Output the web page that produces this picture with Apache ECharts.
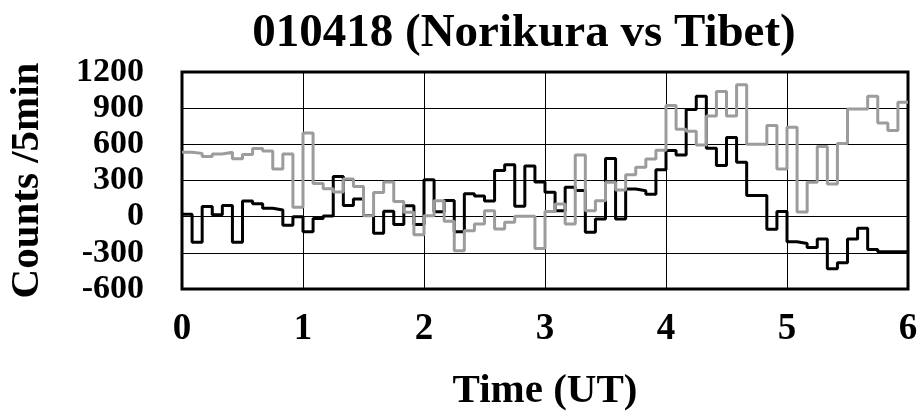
<!DOCTYPE html>
<html>
<head>
<meta charset="utf-8">
<script src="https://cdn.jsdelivr.net/npm/echarts@6/dist/echarts.min.js"></script>
<style>
html,body{margin:0;padding:0;background:#fff;}
#chart{width:918px;height:415px;}
</style>
</head>
<body>
<div id="chart"></div>
<script>
// 5-minute bins, 0–6 UT (12 bins per hour)
const binMinutes = 5;
const norikura = [
  20, -212, 84, 15, 92, -212, 130, 108, 70, 55, -72, 0,
  -125, -16, 5, 333, 92, 147, 10, -137, 45, -65, 90, -65,
  306, 40, 135, -125, 190, 172, 130, 382, 430, 87, 420, 288,
  202, 50, 243, 218, -130, -20, 482, -20, 230, 215, 185, 390,
  548, 512, 888, 998, 568, 424, 656, 452, 175, 175, -105, 42,
  -208, -222, -255, -185, -432, -382, -185, -97, -272, -290, -290, -290
];
const tibet = [
  535, 525, 500, 520, 535, 480, 515, 565, 545, 395, 520, 78,
  695, 275, 232, 205, 312, 250, 8, 200, 288, 125, 36, -150,
  8, 133, -38, -283, -116, -60, 50, -102, -47, 3, 3, -265,
  43, 105, -60, 512, 50, 133, 285, 222, 348, 410, 479, 550,
  922, 725, 708, 595, 836, 1038, 836, 1094, 600, 600, 756, 396,
  742, 39, 285, 583, 271, 606, 894, 894, 998, 776, 714, 950
];
const xTicks = [0, 1, 2, 3, 4, 5, 6];
const yTicks = [-600, -300, 0, 300, 600, 900, 1200];
const titleText = '010418 (Norikura vs Tibet)';
const xName = 'Time (UT)';
const yName = 'Counts /5min';

function toSteps(vals) {
  const pts = vals.map((v, i) => [i * binMinutes / 60, v]);
  pts.push([vals.length * binMinutes / 60, vals[vals.length - 1]]);
  return pts;
}

const font = 'Liberation Serif';
const chart = echarts.init(document.getElementById('chart'), null, {renderer: 'canvas'});
chart.setOption({
  backgroundColor: '#fff',
  animation: false,
  title: {
    text: titleText,
    left: 519, top: 5, textAlign: 'center',
    textStyle: {fontFamily: font, fontWeight: 'bold', fontSize: 47, color: '#000'}
  },
  grid: {
    left: 182, right: 10, top: 72, bottom: 126,
    containLabel: false, outerBoundsMode: 'none',
    show: true, borderColor: '#000', borderWidth: 3, backgroundColor: 'transparent'
  },
  xAxis: {
    type: 'value', min: xTicks[0], max: xTicks[xTicks.length - 1], interval: 1,
    name: xName, nameLocation: 'middle', nameGap: 82,
    nameTextStyle: {fontFamily: font, fontWeight: 'bold', fontSize: 41, color: '#000'},
    axisLine: {show: false}, axisTick: {show: false},
    axisLabel: {fontFamily: font, fontWeight: 'bold', fontSize: 37, color: '#000', margin: 22,
      formatter: v => String(v)},
    splitLine: {show: true, lineStyle: {color: '#000', width: 1}}
  },
  yAxis: {
    type: 'value', min: yTicks[0], max: yTicks[yTicks.length - 1], interval: 300,
    name: yName, nameLocation: 'middle', nameGap: 134, nameRotate: 90,
    nameTextStyle: {fontFamily: font, fontWeight: 'bold', fontSize: 41, color: '#000'},
    axisLine: {show: false}, axisTick: {show: false},
    axisLabel: {fontFamily: font, fontWeight: 'bold', fontSize: 34, color: '#000', margin: 38,
      formatter: v => String(v)},
    splitLine: {show: true, lineStyle: {color: '#000', width: 1}}
  },
  series: [
    {
      name: 'Norikura', type: 'line', step: 'end', data: toSteps(norikura),
      showSymbol: false, symbol: 'none',
      lineStyle: {color: '#000', width: 3}, z: 3
    },
    {
      name: 'Tibet', type: 'line', step: 'end', data: toSteps(tibet),
      showSymbol: false, symbol: 'none',
      lineStyle: {color: '#9c9c9c', width: 3}, z: 4
    }
  ]
});
</script>
</body>
</html>
